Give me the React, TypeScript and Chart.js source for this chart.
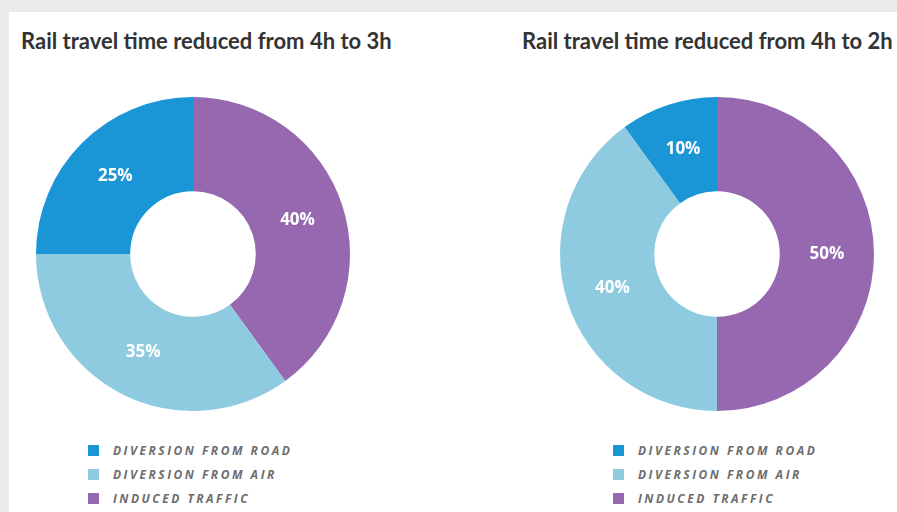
import React, { useEffect, useRef } from "react";
import { Chart, registerables } from "chart.js";

Chart.register(...registerables);

// ---- data (legend order) ----
const categories = ["DIVERSION FROM ROAD", "DIVERSION FROM AIR", "INDUCED TRAFFIC"];
const colors = ["#1a95d5", "#8fcbe0", "#9568b0"];
const titles = [
  "Rail travel time reduced from 4h to 3h",
  "Rail travel time reduced from 4h to 2h",
];
const values3h = [25, 35, 40];
const values2h = [10, 40, 50];

const labelPlugin = {
  id: "pctLabels",
  afterDatasetsDraw(chart: any) {
    const ctx = chart.ctx;
    const meta = chart.getDatasetMeta(0);
    const data = chart.data.datasets[0].data;
    ctx.save();
    ctx.fillStyle = "#ffffff";
    ctx.font = "bold 17px 'Open Sans'";
    ctx.textAlign = "center";
    ctx.textBaseline = "middle";
    meta.data.forEach((arc: any, i: number) => {
      const p = arc.tooltipPosition();
      ctx.fillText(`${data[i]}%`, p.x, p.y);
    });
    ctx.restore();
  },
};

function Donut({ values, left }: { values: number[]; left: number }) {
  const ref = useRef<HTMLCanvasElement | null>(null);
  useEffect(() => {
    if (!ref.current) return;
    // drawn clockwise from top: induced, air, road
    const order = [2, 1, 0];
    const chart = new Chart(ref.current, {
      type: "doughnut",
      data: {
        labels: order.map((i) => categories[i]),
        datasets: [
          {
            data: order.map((i) => values[i]),
            backgroundColor: order.map((i) => colors[i]),
            borderWidth: 0,
          },
        ],
      },
      options: {
        responsive: false,
        animation: false,
        cutout: "40%",
        layout: { padding: 0 },
        plugins: {
          legend: { display: false },
          tooltip: { enabled: false },
          title: { display: false },
        },
      },
      plugins: [labelPlugin],
    });
    return () => chart.destroy();
  }, [values]);
  return (
    <canvas
      ref={ref}
      width={314}
      height={314}
      style={{ position: "absolute", left, top: 97, width: 314, height: 314 }}
    />
  );
}

function Legend({ left }: { left: number }) {
  return (
    <div style={{ position: "absolute", left, top: 438 }}>
      {categories.map((c, i) => (
        <div key={c} style={{ display: "flex", alignItems: "center", height: 24 }}>
          <span
            style={{
              display: "inline-block",
              width: 11,
              height: 11,
              background: colors[i],
              marginRight: 14,
            }}
          />
          <span
            style={{
              fontFamily: "'Open Sans'",
              fontStyle: "italic",
              fontWeight: 700,
              fontSize: 12,
              letterSpacing: 2.5,
              color: "#6e6e6e",
            }}
          >
            {c}
          </span>
        </div>
      ))}
    </div>
  );
}

export default function App() {
  const titleStyle: React.CSSProperties = {
    position: "absolute",
    top: 30,
    fontFamily: "Lato",
    fontWeight: 700,
    fontSize: 22,
    lineHeight: "22px",
    color: "#333333",
    whiteSpace: "nowrap",
  };
  return (
    <div style={{ position: "fixed", inset: 0, background: "#ebebeb", overflow: "hidden" }}>
      <div style={{ position: "absolute", left: 9, top: 12, right: 0, bottom: 0, background: "#ffffff" }} />
      <div style={{ ...titleStyle, left: 21 }}>{titles[0]}</div>
      <div style={{ ...titleStyle, left: 522 }}>{titles[1]}</div>
      <Donut values={values3h} left={36} />
      <Donut values={values2h} left={560} />
      <Legend left={88} />
      <Legend left={613} />
    </div>
  );
}
